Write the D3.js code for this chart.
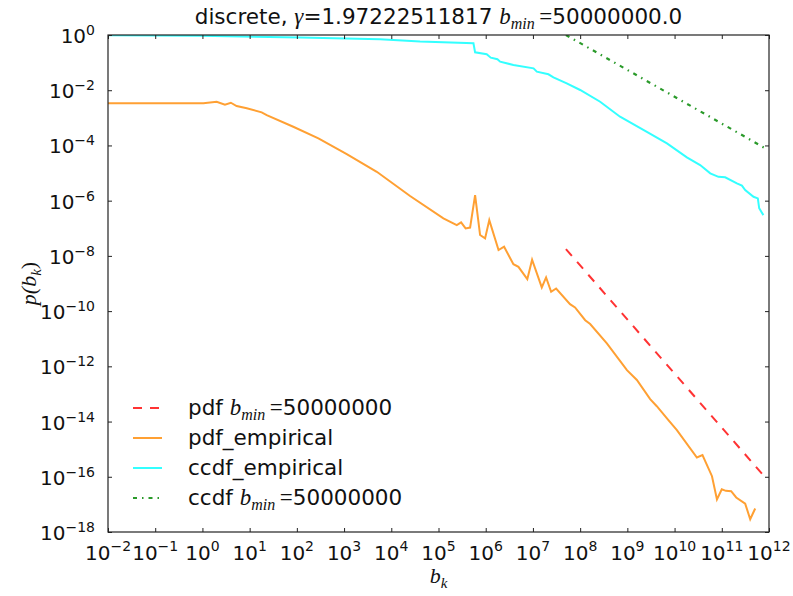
<!DOCTYPE html>
<html>
<head>
<meta charset="utf-8">
<script src="https://cdn.jsdelivr.net/npm/d3@7"></script>
<style>
  body { margin: 0; background: #fff; }
  svg { display: block; }
</style>
</head>
<body>
<svg id="chart"></svg>
<script>
// values (b_k, p)
const pdfEmpirical = [
  [1e-2, 3.35e-3], [1.05, 3.35e-3], [2.0, 3.83e-3], [3.0, 2.98e-3], [4.0, 3.52e-3],
  [5.3, 2.68e-3], [8.7, 2.21e-3], [18, 1.58e-3], [23, 1.26e-3], [84, 4.76e-4],
  [286, 1.81e-4], [1.14e3, 4.88e-5], [4.93e3, 1.11e-5], [2.5e4, 1.47e-6], [1.27e5, 2.29e-7],
  [2.44e5, 1.31e-7], [3.01e5, 1.64e-7], [3.75e5, 9.9e-8], [4.67e5, 1.06e-7], [5.96e5, 1.6e-6],
  [7.6e5, 5.7e-8], [9.7e5, 4.3e-8], [1.19e6, 1.98e-7], [1.87e6, 1.62e-8], [2.45e6, 2.14e-8],
  [3.86e6, 5.0e-9], [4.93e6, 4.0e-9], [7.6e6, 1.44e-9], [9.6e6, 7.3e-9], [1.54e7, 7.2e-10],
  [1.9e7, 1.66e-9], [2.43e7, 5.0e-10], [3.1e7, 6.6e-10], [6.1e7, 1.79e-10], [7.8e7, 1.36e-10],
  [1.28e8, 4.7e-11], [1.63e8, 3.4e-11], [3.68e8, 6.8e-12], [9.8e8, 7.3e-13], [1.59e9, 3.2e-13],
  [3.04e9, 6.5e-14], [4.2e9, 3.6e-14], [7.4e9, 1.12e-14], [1.12e10, 4.9e-15], [2.97e10, 5.0e-16],
  [3.9e10, 6.1e-16], [6.2e10, 1.05e-16], [7.9e10, 1.5e-17], [1.0e11, 3.5e-17], [1.22e11, 3.1e-17],
  [1.58e11, 3.0e-17], [2.02e11, 1.78e-17], [3.13e11, 1.07e-17], [4.0e11, 2.9e-18], [5.1e11, 7.1e-18]
];

const ccdfEmpirical = [
  [1e-2, 0.97], [0.89, 0.93], [117, 0.82], [5.8e3, 0.70], [4.07e4, 0.58],
  [5.5e5, 0.50], [5.96e5, 0.236], [1.05e6, 0.20], [1.28e6, 0.151], [1.77e6, 0.132],
  [2.02e6, 0.108], [3.86e6, 0.082], [1.03e7, 0.062], [1.21e7, 0.047], [2.13e7, 0.0377],
  [2.72e7, 0.0293], [5.2e7, 0.0178], [1.0e8, 0.0102], [2.65e8, 3.83e-3], [7.0e8, 1.10e-3],
  [2.59e9, 3.13e-4], [6.9e9, 1.19e-4], [1.82e10, 3.7e-5], [3.48e10, 1.95e-5], [5.7e10, 9.8e-6],
  [8.5e10, 7.3e-6], [1.18e11, 7.0e-6], [2.09e11, 4.2e-6], [2.67e11, 3.5e-6], [3.13e11, 2.42e-6],
  [4.7e11, 1.38e-6], [5.8e11, 1.21e-6], [6.2e11, 5.3e-7], [7.6e11, 3.0e-7]
];

// fitted power laws, end points as read
const pdfFit = [[5e7, 1.76e-8], [7.9e11, 1.05e-16]];
const ccdfFit = [[5e7, 1.0], [7.9e11, 8.3e-5]];

const xTickExp = d3.range(-2, 13);
const yTickExp = [0, -2, -4, -6, -8, -10, -12, -14, -16, -18];

const legendItems = [
  { name: 'pdf', math: true, color: '#ff3333', dash: '9,8' },
  { name: 'pdf_empirical', math: false, color: '#ffa033', dash: null },
  { name: 'ccdf_empirical', math: false, color: '#33ffff', dash: null },
  { name: 'ccdf', math: true, color: '#2a9a2a', dash: '4,5,1.5,5' }
];

const W = 793, H = 596;
const margin = { top: 35, right: 24, bottom: 64, left: 108 };
const sans = "'DejaVu Sans', sans-serif";
const serif = "'Liberation Serif', 'DejaVu Serif', serif";

const svg = d3.select('#chart').attr('width', W).attr('height', H);

const x = d3.scaleLog().domain([1e-2, 1e12]).range([margin.left, W - margin.right]);
const y = d3.scaleLog().domain([1e-18, 1]).range([H - margin.bottom, margin.top]);

svg.append('clipPath').attr('id', 'plot-clip')
  .append('rect')
  .attr('x', margin.left).attr('y', margin.top)
  .attr('width', W - margin.left - margin.right)
  .attr('height', H - margin.top - margin.bottom);

const line = d3.line().x(d => x(d[0])).y(d => y(d[1]));
const g = svg.append('g').attr('clip-path', 'url(#plot-clip)');

g.append('path').datum(pdfFit).attr('d', line)
  .attr('fill', 'none').attr('stroke', legendItems[0].color).attr('stroke-width', 2)
  .attr('stroke-dasharray', legendItems[0].dash);
g.append('path').datum(pdfEmpirical).attr('d', line)
  .attr('fill', 'none').attr('stroke', legendItems[1].color).attr('stroke-width', 2);
g.append('path').datum(ccdfEmpirical).attr('d', line)
  .attr('fill', 'none').attr('stroke', legendItems[2].color).attr('stroke-width', 2);
g.append('path').datum(ccdfFit).attr('d', line)
  .attr('fill', 'none').attr('stroke', legendItems[3].color).attr('stroke-width', 2.2)
  .attr('stroke-dasharray', legendItems[3].dash);

// ticks pointing inwards on all four sides
const xVals = xTickExp.map(e => Math.pow(10, e));
const yVals = yTickExp.map(e => Math.pow(10, e));
const styleAxis = sel => {
  sel.select('.domain').remove();
  sel.selectAll('line').attr('stroke', '#222').attr('stroke-width', 1);
};
svg.append('g').attr('transform', `translate(0,${H - margin.bottom})`)
  .call(d3.axisBottom(x).tickValues(xVals).tickSizeInner(-4).tickSizeOuter(0).tickFormat(''))
  .call(styleAxis);
svg.append('g').attr('transform', `translate(0,${margin.top})`)
  .call(d3.axisTop(x).tickValues(xVals).tickSizeInner(-4).tickSizeOuter(0).tickFormat(''))
  .call(styleAxis);
svg.append('g').attr('transform', `translate(${margin.left},0)`)
  .call(d3.axisLeft(y).tickValues(yVals).tickSizeInner(-4).tickSizeOuter(0).tickFormat(''))
  .call(styleAxis);
svg.append('g').attr('transform', `translate(${W - margin.right},0)`)
  .call(d3.axisRight(y).tickValues(yVals).tickSizeInner(-4).tickSizeOuter(0).tickFormat(''))
  .call(styleAxis);

svg.append('rect')
  .attr('x', margin.left).attr('y', margin.top)
  .attr('width', W - margin.left - margin.right)
  .attr('height', H - margin.top - margin.bottom)
  .attr('fill', 'none').attr('stroke', '#222').attr('stroke-width', 1.2);

const supText = e => (e < 0 ? '\u2212' + (-e) : '' + e);

// x tick labels
xTickExp.forEach(e => {
  const t = svg.append('text')
    .attr('x', x(Math.pow(10, e))).attr('y', H - margin.bottom + 28)
    .attr('text-anchor', 'middle')
    .style('font-family', sans).style('font-size', '20px').attr('fill', '#111');
  t.append('tspan').text('10');
  t.append('tspan').attr('dy', -9).style('font-size', '14px').text(supText(e));
});

// y tick labels
yTickExp.forEach(e => {
  const t = svg.append('text')
    .attr('x', margin.left - 13).attr('y', y(Math.pow(10, e)) + 8)
    .attr('text-anchor', 'end')
    .style('font-family', sans).style('font-size', '20px').attr('fill', '#111');
  t.append('tspan').text('10');
  t.append('tspan').attr('dy', -8).style('font-size', '14px').text(supText(e));
});

// axis labels
const cx = (margin.left + W - margin.right) / 2;
const cy = (margin.top + H - margin.bottom) / 2;
const xl = svg.append('text').attr('x', cx).attr('y', 583).attr('text-anchor', 'middle')
  .style('font-family', serif).style('font-style', 'italic').style('font-size', '22px').attr('fill', '#111');
xl.append('tspan').text('b');
xl.append('tspan').attr('dy', 5).style('font-size', '15px').text('k');

const yl = svg.append('text').attr('transform', `translate(36,${cy}) rotate(-90)`)
  .attr('text-anchor', 'middle')
  .style('font-family', serif).style('font-style', 'italic').style('font-size', '22px').attr('fill', '#111');
yl.append('tspan').text('p(b');
yl.append('tspan').attr('dy', 5).style('font-size', '15px').text('k');
yl.append('tspan').attr('dy', -5).style('font-style', 'normal').text(')');

// title
const title = svg.append('text').attr('x', cx).attr('y', 24).attr('text-anchor', 'middle')
  .style('font-family', sans).style('font-size', '21.5px').attr('fill', '#111');
title.append('tspan').text('discrete, ');
title.append('tspan').style('font-family', serif).style('font-style', 'italic').style('font-size', '23px').text('\u03b3');
title.append('tspan').text('=1.97222511817 ');
title.append('tspan').style('font-family', serif).style('font-style', 'italic').style('font-size', '23px').text('b');
title.append('tspan').attr('dy', 5).style('font-family', serif).style('font-style', 'italic').style('font-size', '16px').text('min');
title.append('tspan').attr('dy', -5).style('font-family', serif).style('font-size', '23px').text('\u2009=');
title.append('tspan').text('50000000.0');

// legend
const lg = svg.append('g');
legendItems.forEach((d, i) => {
  const ly = 408 + i * 30;
  lg.append('line').attr('x1', 133).attr('x2', 162).attr('y1', ly).attr('y2', ly)
    .attr('stroke', d.color).attr('stroke-width', 2)
    .attr('stroke-dasharray', d.dash);
  const t = lg.append('text').attr('x', 188).attr('y', ly + 7)
    .style('font-family', sans).style('font-size', '21.5px').attr('fill', '#111');
  t.append('tspan').text(d.name + (d.math ? ' ' : ''));
  if (d.math) {
    t.append('tspan').style('font-family', serif).style('font-style', 'italic').style('font-size', '23px').text('b');
    t.append('tspan').attr('dy', 5).style('font-family', serif).style('font-style', 'italic').style('font-size', '16px').text('min');
    t.append('tspan').attr('dy', -5).style('font-family', serif).style('font-size', '23px').text('\u2009=');
    t.append('tspan').text('50000000');
  }
});
</script>
</body>
</html>
